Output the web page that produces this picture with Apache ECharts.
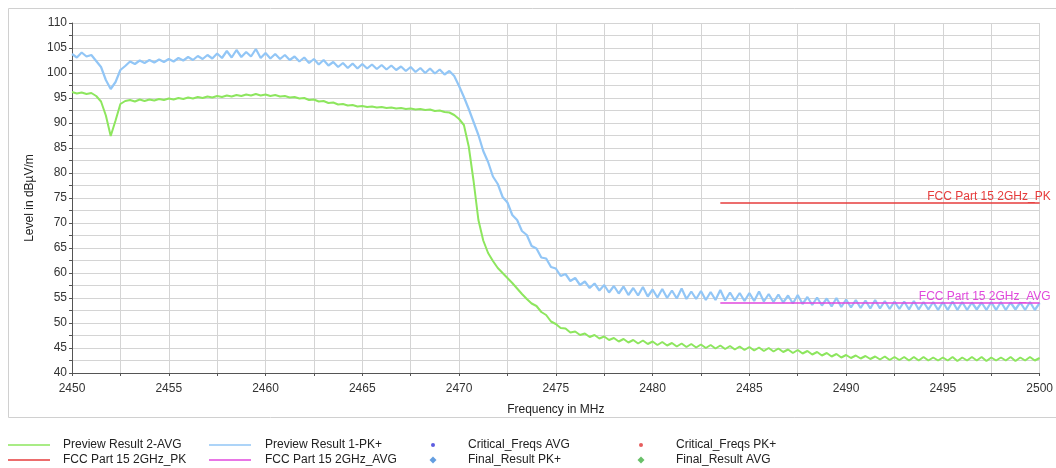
<!DOCTYPE html>
<html>
<head>
<meta charset="utf-8">
<script src="https://cdn.jsdelivr.net/npm/echarts@6/dist/echarts.min.js"></script>
<style>
html,body{margin:0;padding:0;background:#fff;}
#chart{width:1056px;height:468px;}
</style>
</head>
<body>
<div id="chart"></div>
<script>
// Sampling frequencies (MHz), 0.25 MHz step
const freqs = [
2450,2450.25,2450.5,2450.75, 2451,2451.25,2451.5,2451.75, 2452,2452.25,2452.5,2452.75, 2453,2453.25,2453.5,2453.75,
2454,2454.25,2454.5,2454.75, 2455,2455.25,2455.5,2455.75, 2456,2456.25,2456.5,2456.75, 2457,2457.25,2457.5,2457.75,
2458,2458.25,2458.5,2458.75, 2459,2459.25,2459.5,2459.75, 2460,2460.25,2460.5,2460.75, 2461,2461.25,2461.5,2461.75,
2462,2462.25,2462.5,2462.75, 2463,2463.25,2463.5,2463.75, 2464,2464.25,2464.5,2464.75, 2465,2465.25,2465.5,2465.75,
2466,2466.25,2466.5,2466.75, 2467,2467.25,2467.5,2467.75, 2468,2468.25,2468.5,2468.75, 2469,2469.25,2469.5,2469.75,
2470,2470.25,2470.5,2470.75, 2471,2471.25,2471.5,2471.75, 2472,2472.25,2472.5,2472.75, 2473,2473.25,2473.5,2473.75,
2474,2474.25,2474.5,2474.75, 2475,2475.25,2475.5,2475.75, 2476,2476.25,2476.5,2476.75, 2477,2477.25,2477.5,2477.75,
2478,2478.25,2478.5,2478.75, 2479,2479.25,2479.5,2479.75, 2480,2480.25,2480.5,2480.75, 2481,2481.25,2481.5,2481.75,
2482,2482.25,2482.5,2482.75, 2483,2483.25,2483.5,2483.75, 2484,2484.25,2484.5,2484.75, 2485,2485.25,2485.5,2485.75,
2486,2486.25,2486.5,2486.75, 2487,2487.25,2487.5,2487.75, 2488,2488.25,2488.5,2488.75, 2489,2489.25,2489.5,2489.75,
2490,2490.25,2490.5,2490.75, 2491,2491.25,2491.5,2491.75, 2492,2492.25,2492.5,2492.75, 2493,2493.25,2493.5,2493.75,
2494,2494.25,2494.5,2494.75, 2495,2495.25,2495.5,2495.75, 2496,2496.25,2496.5,2496.75, 2497,2497.25,2497.5,2497.75,
2498,2498.25,2498.5,2498.75, 2499,2499.25,2499.5,2499.75, 2500
];

// Preview Result 1-PK+ (dBuV/m)
const pkValues = [
103.8,103.1,104.1,103.3, 103.6,102.4,101.2,98.6, 96.8,98.2,100.6,101.4, 102.3,101.8,102.5,102.0,
102.6,102.1,102.7,102.2, 102.8,102.3,103.0,102.5, 103.2,102.6,103.4,102.8, 103.6,102.9,103.9,103.0,
104.4,103.1,104.6,103.2, 104.2,103.3,104.8,103.0, 104.0,102.9,103.8,102.8, 103.6,102.6,103.3,102.3,
103.1,102.0,102.8,101.7, 102.6,101.5,102.2,101.2, 102.0,101.0,101.9,100.9, 101.8,100.9,101.7,100.8,
101.6,100.7,101.5,100.6, 101.3,100.4,101.2,100.2, 101.0,100.0,100.9,99.9, 100.7,99.7,100.4,99.4,
97.4,95.2,92.8,90.2, 87.6,84.4,82.2,79.3, 77.8,75.2,74.1,71.6, 70.6,68.4,67.6,65.4,
64.9,63.1,62.9,61.2, 60.9,59.4,59.8,58.4, 59.0,57.6,58.3,57.0, 57.9,56.5,57.6,56.1,
57.4,55.9,57.3,55.6, 57.0,55.5,57.2,55.3, 56.7,55.1,56.8,55.0, 56.5,54.9,56.9,54.8,
56.3,54.8,56.4,54.6, 56.2,54.6,56.6,54.5, 56.1,54.5,56.0,54.4, 56.0,54.4,56.3,54.3,
55.8,54.2,55.7,54.1, 55.5,53.9,55.6,53.8, 55.2,53.6,55.1,53.5, 54.9,53.3,55.0,53.2,
54.7,53.1,54.6,53.0, 54.5,52.9,54.6,52.9, 54.4,52.8,54.3,52.8, 54.3,52.7,54.4,52.7,
54.2,52.7,54.2,52.6, 54.2,52.6,54.3,52.6, 54.2,52.6,54.1,52.7, 54.1,52.6,54.2,52.6,
54.2,52.6,54.1,52.7, 54.1,52.6,54.2,52.6, 54.0
];

// Preview Result 2-AVG (dBuV/m)
const avgValues = [
96.2,95.9,96.1,95.8, 96.0,95.4,94.3,91.5, 87.4,90.5,93.8,94.4, 94.6,94.3,94.7,94.4,
94.7,94.5,94.8,94.6, 94.9,94.7,95.0,94.8, 95.1,94.9,95.2,95.0, 95.3,95.1,95.4,95.2,
95.5,95.3,95.6,95.4, 95.7,95.5,95.8,95.5, 95.7,95.4,95.6,95.3, 95.4,95.1,95.2,94.9,
95.0,94.6,94.7,94.3, 94.4,94.0,94.1,93.7, 93.8,93.5,93.6,93.3, 93.4,93.2,93.3,93.1,
93.2,93.0,93.1,92.9, 93.0,92.8,92.9,92.7, 92.8,92.6,92.7,92.4, 92.5,92.2,92.1,91.6,
90.8,89.6,85.3,78.4, 70.6,66.5,64.0,62.4, 61.0,60.0,59.0,58.0, 56.9,55.8,54.8,53.9,
53.4,52.2,51.6,50.3, 49.8,49.0,48.9,48.1, 48.3,47.6,47.9,47.2, 47.6,46.9,47.3,46.6,
47.0,46.3,46.8,46.1, 46.6,45.9,46.5,45.8, 46.3,45.6,46.2,45.5, 46.0,45.3,45.9,45.2,
45.8,45.1,45.7,45.0, 45.6,44.9,45.5,44.8, 45.4,44.7,45.3,44.6, 45.2,44.5,45.1,44.4,
45.0,44.3,44.9,44.2, 44.7,44.0,44.6,43.9, 44.4,43.7,44.2,43.5, 44.0,43.3,43.8,43.1,
43.6,43.0,43.5,42.9, 43.4,42.8,43.3,42.7, 43.3,42.6,43.2,42.6, 43.2,42.5,43.2,42.5,
43.2,42.5,43.1,42.5, 43.1,42.5,43.2,42.4, 43.1,42.5,43.2,42.5, 43.2,42.4,43.1,42.5,
43.1,42.5,43.2,42.4, 43.1,42.5,43.2,42.5, 43.0
];

// Limit lines
const limitFreqs = [2483.5, 2500];
const limitPk = [74, 74];
const limitAvg = [54, 54];

// Axis settings
const xMin = 2450, xMax = 2500, xStep = 5;
const yMin = 40, yMax = 110, yStep = 5;

const names = {
  avg: 'Preview Result 2-AVG',
  pk: 'Preview Result 1-PK+',
  limPk: 'FCC Part 15 2GHz_PK',
  limAvg: 'FCC Part 15 2GHz_AVG',
  critAvg: 'Critical_Freqs AVG',
  critPk: 'Critical_Freqs PK+',
  finPk: 'Final_Result PK+',
  finAvg: 'Final_Result AVG'
};

const colors = {
  avg: '#8de65e',
  pk: '#92c6f6',
  limPk: '#e63c3c',
  limAvg: '#e048dc',
  critAvg: '#3434d8',
  critPk: '#e03434',
  finPk: '#3d86d8',
  finAvg: '#44b044'
};

const pair = (xs, ys) => xs.map((x, i) => [x, ys[i]]);

const font = 'Liberation Sans, Arial, sans-serif';
const gridColor = '#d4d4d4';

// one legend entry per block; textLeft = desired x where text starts
function legendAt(name, iconLeft, top, icon, w, h, textLeft) {
  const pad = textLeft - (iconLeft + w + 5);
  return {
    left: iconLeft, top: top, orient: 'vertical', padding: 0,
    itemWidth: w, itemHeight: h, selectedMode: false,
    data: [{ name: name, icon: icon }],
    textStyle: { fontFamily: font, fontSize: 12, color: '#222', padding: [0, 0, 0, pad] }
  };
}

const chart = echarts.init(document.getElementById('chart'));
chart.setOption({
  animation: false,
  backgroundColor: '#fff',
  textStyle: { fontFamily: font },
  graphic: [{
    type: 'rect', silent: true, z: -10,
    shape: { x: 8.5, y: 8.5, width: 1060, height: 409 },
    style: { fill: '#fff', stroke: '#d0d0d0', lineWidth: 1 }
  }],
  grid: { left: 72, right: 14, top: 23, bottom: 95, containLabel: false },
  legend: [
    legendAt(names.avg, 8, 439, 'rect', 42, 1.5, 63),
    legendAt(names.limPk, 8, 454, 'rect', 42, 1.5, 63),
    legendAt(names.pk, 209, 439, 'rect', 42, 1.5, 265),
    legendAt(names.limAvg, 209, 454, 'rect', 42, 1.5, 265),
    legendAt(names.critAvg, 431, 439, 'circle', 4, 4, 468),
    legendAt(names.finPk, 429.5, 454, 'diamond', 7, 7, 468),
    legendAt(names.critPk, 639, 439, 'circle', 4, 4, 676),
    legendAt(names.finAvg, 637.5, 454, 'diamond', 7, 7, 676)
  ],
  xAxis: {
    type: 'value', min: xMin, max: xMax, interval: xStep,
    name: 'Frequency in MHz', nameLocation: 'middle', nameGap: 31,
    nameTextStyle: { fontFamily: font, fontSize: 12, color: '#222' },
    axisLine: { show: true, onZero: false, lineStyle: { color: '#555', width: 1 } },
    axisTick: { show: true, inside: false, length: 3, lineStyle: { color: '#555' } },
    minorTick: { show: true, splitNumber: 2, length: 3, lineStyle: { color: '#555' } },
    axisLabel: { fontFamily: font, fontSize: 12, color: '#333', margin: 10, formatter: v => String(v) },
    splitLine: { show: true, lineStyle: { color: gridColor, width: 1 } },
    minorSplitLine: { show: true, lineStyle: { color: gridColor, width: 1 } }
  },
  yAxis: {
    type: 'value', min: yMin, max: yMax, interval: yStep,
    name: 'Level in dBµV/m', nameLocation: 'middle', nameGap: 30, nameRotate: 90,
    nameTextStyle: { fontFamily: font, fontSize: 12, color: '#222' },
    axisLine: { show: true, lineStyle: { color: '#555', width: 1 } },
    axisTick: { show: true, inside: false, length: 3, lineStyle: { color: '#555' } },
    minorTick: { show: true, splitNumber: 2, length: 3, lineStyle: { color: '#555' } },
    axisLabel: { fontFamily: font, fontSize: 12, color: '#333', margin: 5, formatter: v => String(v) },
    splitLine: { show: true, lineStyle: { color: gridColor, width: 1 } },
    minorSplitLine: { show: true, lineStyle: { color: gridColor, width: 1 } }
  },
  series: [
    {
      name: names.pk, type: 'line', symbol: 'none', z: 3,
      data: pair(freqs, pkValues),
      itemStyle: { color: colors.pk },
      lineStyle: { color: colors.pk, width: 2.2 }
    },
    {
      name: names.avg, type: 'line', symbol: 'none', z: 2,
      data: pair(freqs, avgValues),
      itemStyle: { color: colors.avg },
      lineStyle: { color: colors.avg, width: 2 }
    },
    {
      name: names.limPk, type: 'line', symbol: 'none', z: 4,
      data: pair(limitFreqs, limitPk),
      itemStyle: { color: colors.limPk },
      lineStyle: { color: colors.limPk, width: 1.3 },
      endLabel: {
        show: true, formatter: names.limPk, color: colors.limPk,
        fontFamily: font, fontSize: 12, align: 'right', verticalAlign: 'bottom',
        offset: [3, 0]
      }
    },
    {
      name: names.limAvg, type: 'line', symbol: 'none', z: 4,
      data: pair(limitFreqs, limitAvg),
      itemStyle: { color: colors.limAvg },
      lineStyle: { color: colors.limAvg, width: 1.3 },
      endLabel: {
        show: true, formatter: names.limAvg, color: colors.limAvg,
        fontFamily: font, fontSize: 12, align: 'right', verticalAlign: 'bottom',
        offset: [3, 0]
      }
    },
    { name: names.critAvg, type: 'scatter', data: [], itemStyle: { color: colors.critAvg } },
    { name: names.finPk, type: 'scatter', data: [], itemStyle: { color: colors.finPk } },
    { name: names.critPk, type: 'scatter', data: [], itemStyle: { color: colors.critPk } },
    { name: names.finAvg, type: 'scatter', data: [], itemStyle: { color: colors.finAvg } }
  ]
});
</script>
</body>
</html>
